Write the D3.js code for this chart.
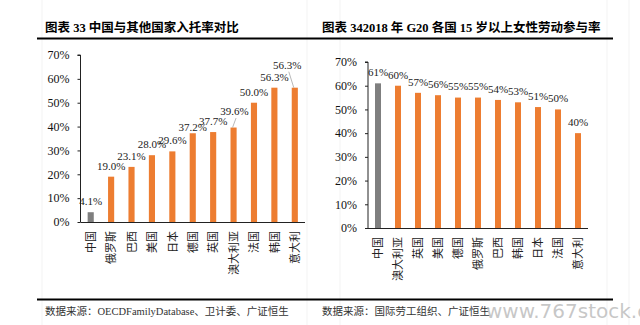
<!DOCTYPE html>
<html>
<head>
<meta charset="utf-8">
<script src="https://cdn.jsdelivr.net/npm/d3@7"></script>
<style>
  html, body { margin: 0; padding: 0; background: #fff; }
  svg { display: block; }
  .serif { font-family: 'Liberation Serif', 'Times New Roman', 'Noto Sans CJK SC', serif; }
  .cjk { font-family: 'Noto Sans CJK SC', sans-serif; }
</style>
</head>
<body>
<svg width="640" height="325"></svg>
<script>
// 入托率（左）
var leftCats = ['中国', '俄罗斯', '巴西', '美国', '日本', '德国', '英国', '澳大利亚', '法国', '韩国', '意大利'];
var leftVals = [4.1, 19.0, 23.1, 28.0, 29.6, 37.2, 37.7, 39.6, 50.0, 56.3, 56.3];

// 女性劳动参与率（右）
var rightCats = ['中国', '澳大利亚', '英国', '美国', '德国', '俄罗斯', '巴西', '韩国', '日本', '法国', '意大利'];
var rightVals = [61, 60, 57, 56, 55, 55, 54, 53, 51, 50, 40];

var yTicks = [0, 10, 20, 30, 40, 50, 60, 70];

function main() {
	var svg = d3.select('svg');
	var orange = '#ED7D31', grey = '#7F7F7F';

	// faint page grid columns
	svg.selectAll('line.bg')
		.data([42, 307, 340, 607, 629])
		.enter().append('line')
		.attr('x1', function(d){ return d; }).attr('x2', function(d){ return d; })
		.attr('y1', 0).attr('y2', 325)
		.attr('stroke', '#f3f3f3').attr('stroke-width', 1);

	// titles + rules
	svg.append('text').attr('class', 'serif')
		.attr('x', 45).attr('y', 32)
		.attr('font-size', 12.5).attr('font-weight', 'bold').attr('fill', '#000')
		.text('图表 33 中国与其他国家入托率对比');
	svg.append('text').attr('class', 'serif')
		.attr('x', 322).attr('y', 32)
		.attr('font-size', 12.5).attr('font-weight', 'bold').attr('fill', '#000')
		.text('图表 342018 年 G20 各国 15 岁以上女性劳动参与率');

	svg.append('line').attr('x1', 37).attr('x2', 613).attr('y1', 38.5).attr('y2', 38.5)
		.attr('stroke', '#000').attr('stroke-width', 1.8);
	svg.append('line').attr('x1', 37).attr('x2', 613).attr('y1', 299.5).attr('y2', 299.5)
		.attr('stroke', '#000').attr('stroke-width', 1.8);

	svg.append('text').attr('class', 'serif')
		.attr('x', 45).attr('y', 315)
		.attr('font-size', 10.5).attr('fill', '#333')
		.text('数据来源：OECDFamilyDatabase、卫计委、广证恒生');
	svg.append('text').attr('class', 'serif')
		.attr('x', 322).attr('y', 315)
		.attr('font-size', 10.5).attr('fill', '#333')
		.text('数据来源：国际劳工组织、广证恒生');

	drawPanel(svg, {
		cats: leftCats, vals: leftVals,
		x0: 80.5, x1: 305, y0: 222, y1: 55,
		fmt: function(v){ return d3.format('.1f')(v) + '%'; },
		// manual label shifts [dx, dy] and leader lines
		nudge: {5: [0, 5], 7: [1, -5], 10: [-7.5, -11.5]},
		leader: {7: true, 10: true}
	});

	drawPanel(svg, {
		cats: rightCats, vals: rightVals,
		x0: 368, x1: 588, y0: 228, y1: 62,
		fmt: function(v){ return d3.format('.0f')(v) + '%'; },
		nudge: {}, leader: {}
	});

	// site watermark
	svg.append('text')
		.attr('x', 486).attr('y', 318)
		.attr('font-family', 'DejaVu Sans, sans-serif')
		.attr('font-size', 20)
		.attr('fill', '#bdbdbd').attr('fill-opacity', 0.85)
		.text('www.767stock.com');

	function drawPanel(svg, c) {
		var x = d3.scaleBand()
			.domain(c.cats)
			.range([c.x0, c.x1])
			.paddingInner(0.7)
			.paddingOuter(0.35);
		var y = d3.scaleLinear().domain([0, 70]).range([c.y0, c.y1]);

		var g = svg.append('g');

		var yAxis = g.append('g')
			.attr('class', 'serif')
			.attr('transform', 'translate(' + c.x0 + ',0)')
			.call(d3.axisLeft(y).tickValues(yTicks).tickSize(3).tickPadding(8)
				.tickFormat(function(d){ return d + '%'; }));
		yAxis.selectAll('text').attr('font-size', 12).attr('fill', '#111')
			.attr('font-family', "'Liberation Serif', serif");
		yAxis.selectAll('line').attr('stroke', '#222');
		yAxis.select('.domain').attr('stroke', '#222').attr('d', 'M-3,' + c.y1 + 'H0V' + c.y0);

		g.selectAll('rect.bar')
			.data(c.vals)
			.enter().append('rect')
			.attr('class', 'bar')
			.attr('x', function(d, i){ return x(c.cats[i]); })
			.attr('width', x.bandwidth())
			.attr('y', function(d){ return y(d); })
			.attr('height', function(d){ return y(0) - y(d); })
			.attr('fill', function(d, i){ return i === 0 ? grey : orange; });

		// bottom axis line
		g.append('line')
			.attr('x1', c.x0).attr('x2', c.x1)
			.attr('y1', c.y0 + 0.5).attr('y2', c.y0 + 0.5)
			.attr('stroke', '#222').attr('stroke-width', 1);

		// value labels
		c.vals.forEach(function(v, i) {
			var cx = x(c.cats[i]) + x.bandwidth() / 2;
			var n = c.nudge[i] || [0, 0];
			var ly = y(v) - 11 + n[1];
			var lx = cx + n[0];
			g.append('text')
				.attr('class', 'serif')
				.attr('x', lx).attr('y', ly)
				.attr('dy', '0.35em')
				.attr('text-anchor', 'middle')
				.attr('font-size', 11).attr('fill', '#222')
				.text(c.fmt(v));
			if (c.leader[i]) {
				g.append('line')
					.attr('x1', lx + 1.5).attr('y1', ly + 6.5)
					.attr('x2', cx - 1).attr('y2', y(v))
					.attr('stroke', '#a6a6a6').attr('stroke-width', 0.8);
			}
		});

		// category names, rotated to read bottom-up
		g.selectAll('text.cat')
			.data(c.cats)
			.enter().append('text')
			.attr('class', 'cat cjk')
			.attr('transform', function(d){
				return 'translate(' + (x(d) + x.bandwidth() / 2) + ',' + (c.y0 + 9) + ') rotate(-90)';
			})
			.attr('dy', '0.38em')
			.attr('text-anchor', 'end')
			.attr('font-size', 11).attr('fill', '#222')
			.text(function(d){ return d; });
	}
}
main();
</script>
</body>
</html>
